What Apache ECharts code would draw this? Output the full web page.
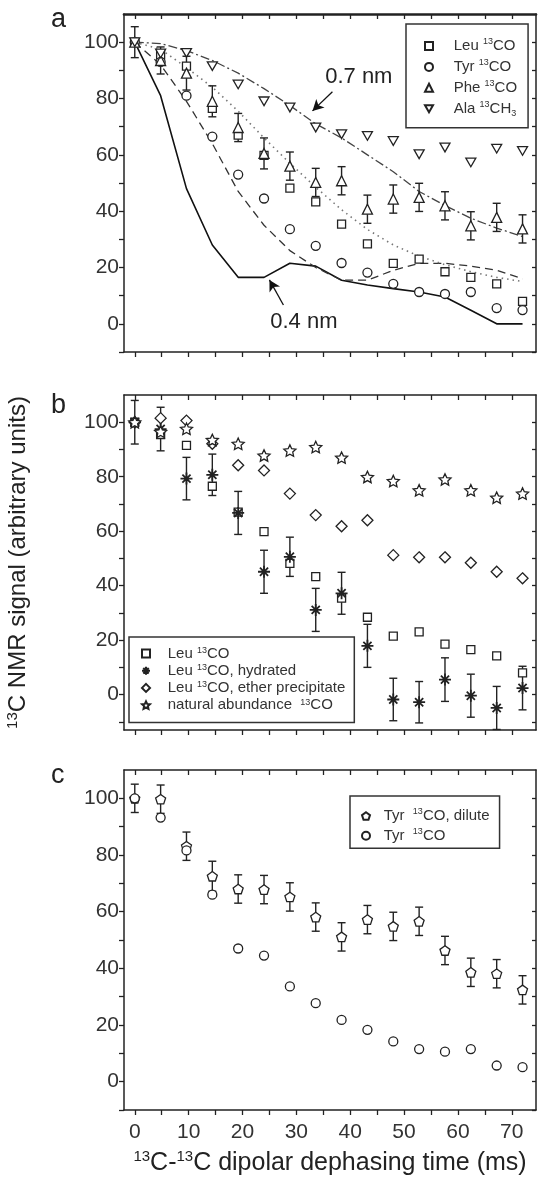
<!DOCTYPE html>
<html lang="en">
<head>
    <meta charset="UTF-8">
    <title>13C-13C dipolar dephasing</title>
    <script src="https://cdn.jsdelivr.net/npm/echarts@6/dist/echarts.min.js"></script>
    <style>
        html, body { margin: 0; padding: 0; background: #fff; }
        #chart { width: 539px; height: 1178px; }
    </style>
</head>
<body>
    <div id="chart"></div>
    <script>
        // dephasing times (ms)
        var times = [0, 4.8, 9.6, 14.4, 19.2, 24, 28.8, 33.6, 38.4, 43.2, 48, 52.8, 57.6, 62.4, 67.2, 72];

        // panel a
        var leu = [100, 95.5, 91.5, 76.5, 67, 59.8, 48.2, 43.3, 35.4, 28.4, 21.5, 23, 18.5, 16.5, 14.2, 8];
        var tyrA = [100, 93, 81, 66.5, 53, 44.5, 33.6, 27.7, 21.6, 18.2, 14.2, 11.3, 10.6, 11.3, 5.6, 4.9];
        var phe = [100, 93.5, 89, 79, 69.7, 60.5, 56, 50.2, 50.8, 40.7, 44.3, 44.9, 41.9, 34.8, 37.8, 33.7];
        var pheErr = [5.5, 4.8, 6, 5.5, 5, 5.5, 5, 5, 5, 5, 5, 5, 5, 5, 5, 5];
        var ala = [100, 96, 96.2, 91.5, 85, 79, 76.8, 69.7, 67.3, 66.7, 64.9, 60.2, 62.6, 57.3, 62.2, 61.4];
        var sim04 = [100, 81, 48, 28, 16.5, 16.5, 21.5, 20.5, 15.5, 13.8, 12.5, 11.3, 9.5, 4.8, 0, 0];
        var simDashed = [100, 92, 79, 64, 47, 35, 26, 20, 15.5, 15.5, 19, 21.5, 21.5, 20.5, 19, 16];
        var simDotted = [100, 97.5, 91, 84, 75.5, 66, 57, 48.5, 40.5, 33.5, 28, 24, 21, 18.5, 16.5, 15];
        var sim07 = [100, 99.5, 97, 93.5, 89, 83.5, 77.5, 71, 66, 60, 54, 47, 42, 37.5, 34, 31];

        // panel b
        var leuHyd = [100, 97.5, 79.3, 80.7, 66.7, 45.1, 50.6, 31.1, 37.2, 17.9, -1.8, -2.8, 5.5, -0.4, -4.9, 2.4];
        var leuHydErr = [8, 8, 7.8, 7.6, 7.9, 7.9, 7.2, 7.9, 7.7, 7.9, 7.8, 7.6, 8, 7.9, 7.9, 8];
        var leuEther = [100, 101.5, 100.6, 92.1, 84.2, 82.3, 73.8, 65.9, 61.8, 64, 51.2, 50.4, 50.4, 48.4, 45.1, 42.7];
        var natAb = [100, 96.5, 97.6, 93.5, 92.1, 87.8, 89.6, 90.9, 87, 79.9, 78.4, 75, 79, 75, 72.3, 73.8];

        // panel c
        var tyrDil = [100, 99.7, 83.1, 72.5, 68, 67.8, 65.2, 58.1, 51.1, 57.2, 54.8, 56.6, 46.3, 38.6, 38.1, 32.4];
        var tyrDilErr = [5, 5, 5, 5.3, 5, 5, 5, 5, 5, 5, 5, 5, 5, 5, 5, 5];
        var tyrC = [100, 93.2, 81.6, 66, 47, 44.5, 33.6, 27.7, 21.8, 18.3, 14.2, 11.5, 10.6, 11.5, 5.7, 5.1];

        // ticks / labels
        var xLabels = [0, 10, 20, 30, 40, 50, 60, 70];
        var xTicks = [0, 5, 10, 15, 20, 25, 30, 35, 40, 45, 50, 55, 60, 65, 70];
        var yLabels = [0, 20, 40, 60, 80, 100];
        var yTicks = [-10, 0, 10, 20, 30, 40, 50, 60, 70, 80, 90, 100];

        var INK = '#222';
        var symDown = 'path://M0,0L10,0L5,8.66Z';
        var symAst = 'path://M5,0L5,10M0,5L10,5M1.6,1.6L8.4,8.4M8.4,1.6L1.6,8.4';
        var symStar = 'path://M5,0L6.41,3.06L9.76,3.46L7.28,5.74L7.94,9.05L5,7.4L2.06,9.05L2.72,5.74L0.24,3.46L3.59,3.06Z';
        var symPent = 'path://M5,0L9.76,3.46L7.94,9.05L2.06,9.05L0.24,3.46Z';

        var legendText = {
            aLeu: '{n|Leu }{s|13}{n|CO}',
            aTyr: '{n|Tyr }{s|13}{n|CO}',
            aPhe: '{n|Phe }{s|13}{n|CO}',
            aAla: '{n|Ala }{s|13}{n|CH}{u|3}',
            bLeu: '{n|Leu }{s|13}{n|CO}',
            bHyd: '{n|Leu }{s|13}{n|CO, hydrated}',
            bEther: '{n|Leu }{s|13}{n|CO, ether precipitate}',
            bNat: '{n|natural abundance  }{s|13}{n|CO}',
            cDil: '{n|Tyr  }{s|13}{n|CO, dilute}',
            cTyr: '{n|Tyr  }{s|13}{n|CO}'
        };

        function pts(v) {
            return times.map(function (t, i) { return [t, v[i]]; });
        }
        function bars(v, e) {
            return times.map(function (t, i) { return [t, v[i] - e[i], v[i] + e[i]]; });
        }

        function xAxes(gi, showLabels, topWidth) {
            var bottom = {
                type: 'value', gridIndex: gi, position: 'bottom', min: -2, max: 74.5,
                axisLine: { show: true, onZero: false, lineStyle: { color: INK, width: 1.5 } },
                axisTick: { show: true, inside: false, length: 5, customValues: xTicks, lineStyle: { color: INK, width: 1.3 } },
                axisLabel: { show: showLabels, customValues: xLabels, fontSize: 21, color: '#333', margin: 12 },
                splitLine: { show: false }
            };
            if (showLabels) {
                bottom.name = '{s|13}{n|C-}{s|13}{n|C dipolar dephasing time (ms)}';
                bottom.nameLocation = 'middle';
                bottom.nameGap = 39;
                bottom.nameTextStyle = {
                    rich: {
                        n: { fontSize: 25, lineHeight: 28, color: '#222' },
                        s: { fontSize: 15, lineHeight: 15, verticalAlign: 'top', color: '#222' }
                    }
                };
            }
            var top = {
                type: 'value', gridIndex: gi, position: 'top', min: -2, max: 74.5,
                axisLine: { show: true, onZero: false, lineStyle: { color: INK, width: topWidth } },
                axisTick: { show: true, inside: true, length: 5, customValues: xTicks, lineStyle: { color: INK, width: 1.3 } },
                axisLabel: { show: false },
                splitLine: { show: false }
            };
            return [bottom, top];
        }

        function yAxes(gi, min) {
            var left = {
                type: 'value', gridIndex: gi, position: 'left', min: min, max: 110,
                axisLine: { show: true, onZero: false, lineStyle: { color: INK, width: 1.5 } },
                axisTick: { show: true, inside: false, length: 5, customValues: yTicks, lineStyle: { color: INK, width: 1.3 } },
                axisLabel: { show: true, customValues: yLabels, fontSize: 21, color: '#333', margin: 5 },
                splitLine: { show: false }
            };
            var right = {
                type: 'value', gridIndex: gi, position: 'right', min: min, max: 110,
                axisLine: { show: true, onZero: false, lineStyle: { color: INK, width: 1.5 } },
                axisTick: { show: true, inside: true, length: 4, customValues: yTicks, lineStyle: { color: INK, width: 1.3 } },
                axisLabel: { show: false },
                splitLine: { show: false }
            };
            return [left, right];
        }

        function errSeries(name, xi, data) {
            return {
                name: name, type: 'custom', xAxisIndex: xi, yAxisIndex: xi, z: 3,
                encode: { x: 0, y: [1, 2] },
                data: data,
                renderItem: function (params, api) {
                    var x = api.value(0);
                    var top = api.coord([x, api.value(2)]);
                    var bot = api.coord([x, api.value(1)]);
                    var w = 4;
                    var st = { stroke: INK, lineWidth: 1.4 };
                    return {
                        type: 'group', children: [
                            { type: 'line', shape: { x1: top[0], y1: top[1], x2: bot[0], y2: bot[1] }, style: st },
                            { type: 'line', shape: { x1: top[0] - w, y1: top[1], x2: top[0] + w, y2: top[1] }, style: st },
                            { type: 'line', shape: { x1: bot[0] - w, y1: bot[1], x2: bot[0] + w, y2: bot[1] }, style: st }
                        ]
                    };
                }
            };
        }

        function scat(name, xi, v, symbol, size, fill, bw) {
            return {
                name: name, type: 'scatter', xAxisIndex: xi, yAxisIndex: xi, z: 4,
                symbol: symbol, symbolSize: size, symbolKeepAspect: true,
                itemStyle: { color: fill || '#fff', borderColor: INK, borderWidth: bw || 1.3, opacity: 1 },
                data: pts(v)
            };
        }

        function simLine(name, v, type, color, width) {
            return {
                name: name, type: 'line', xAxisIndex: 0, yAxisIndex: 0, z: 2,
                showSymbol: false, symbol: 'none', smooth: false,
                lineStyle: { color: color, width: width, type: type },
                data: pts(v)
            };
        }

        function legendRich(fs, lh, gap) {
            return {
                g: { width: gap },
                n: { fontSize: fs, lineHeight: lh, color: '#333' },
                s: { fontSize: 9, lineHeight: 9, verticalAlign: 'top', color: '#333' },
                u: { fontSize: 9, lineHeight: 9, verticalAlign: 'bottom', color: '#333' }
            };
        }
        function legendFmt(name) { return '{g|}' + legendText[name]; }

        var solid = simLine('sim 0.4 nm', sim04, 'solid', '#111', 1.6);
        solid.markLine = {
            silent: true, symbol: ['none', 'arrow'], symbolSize: [9, 11],
            lineStyle: { color: '#111', width: 1.3, type: 'solid' },
            label: { show: false },
            data: [
                [{ coord: [36.7, 82.4] }, { coord: [33, 75.6] }],
                [{ coord: [27.6, 6.7] }, { coord: [25, 15.6] }]
            ]
        };
        solid.markPoint = {
            silent: true, symbol: 'circle', symbolSize: 1,
            itemStyle: { color: 'rgba(0,0,0,0)' },
            label: { show: true, position: 'inside', formatter: '{b}', fontSize: 22, color: '#222' },
            data: [
                { name: '0.7 nm', coord: [41.6, 87.6] },
                { name: '0.4 nm', coord: [31.4, 0.7] }
            ]
        };

        var chart = echarts.init(document.getElementById('chart'));
        var option = {
            animation: false,
            backgroundColor: '#fff',
            textStyle: { fontFamily: 'Liberation Sans, Arial, sans-serif' },
            title: [
                { text: 'a', left: 51, top: 6, padding: 0, textStyle: { fontSize: 27, fontWeight: 'normal', color: '#222' } },
                { text: 'b', left: 51, top: 392, padding: 0, textStyle: { fontSize: 27, fontWeight: 'normal', color: '#222' } },
                { text: 'c', left: 51, top: 762, padding: 0, textStyle: { fontSize: 27, fontWeight: 'normal', color: '#222' } }
            ],
            grid: [
                { left: 124, right: 3, top: 14, height: 338, outerBoundsMode: 'none' },
                { left: 124, right: 3, top: 395, height: 335, outerBoundsMode: 'none' },
                { left: 124, right: 3, top: 770, height: 340, outerBoundsMode: 'none' }
            ],
            xAxis: [].concat(xAxes(0, false, 2.6), xAxes(1, false, 1.5), xAxes(2, true, 1.5)),
            yAxis: (function () {
                var ys = [].concat(yAxes(0, -10), yAxes(1, -13), yAxes(2, -10));
                ys[2].name = '{s|13}{n|C NMR signal (arbitrary units)}';
                ys[2].nameLocation = 'middle';
                ys[2].nameGap = 92;
                ys[2].nameRotate = 90;
                ys[2].nameTextStyle = {
                    rich: {
                        n: { fontSize: 24, lineHeight: 27, color: '#222' },
                        s: { fontSize: 15, lineHeight: 15, verticalAlign: 'top', color: '#222' }
                    }
                };
                return ys;
            })(),
            legend: [
                {
                    data: ['aLeu', 'aTyr', 'aPhe', 'aAla'], orient: 'vertical', left: 406, top: 24,
                    selectedMode: false, itemWidth: 8, itemHeight: 8, itemGap: 4.4,
                    padding: [13, 11, 10, 18], borderColor: '#333', borderWidth: 1.5,
                    formatter: legendFmt, textStyle: { rich: legendRich(15, 18, 15.7) }
                },
                {
                    data: ['bLeu', 'bHyd', 'bEther', 'bNat'], orient: 'vertical', left: 129, top: 637,
                    selectedMode: false, itemWidth: 8, itemHeight: 8, itemGap: 2.2,
                    padding: [9, 9, 10, 12], borderColor: '#333', borderWidth: 1.5,
                    formatter: legendFmt, textStyle: { rich: legendRich(15, 15, 12.7) }
                },
                {
                    data: ['cDil', 'cTyr'], orient: 'vertical', left: 350, top: 796,
                    selectedMode: false, itemWidth: 8, itemHeight: 8, itemGap: 3.3,
                    padding: [11, 10, 5, 11], borderColor: '#333', borderWidth: 1.5,
                    formatter: legendFmt, textStyle: { rich: legendRich(15, 18, 8.7) }
                }
            ],
            series: [
                solid,
                simLine('sim dashed', simDashed, [8, 5], '#333', 1.3),
                simLine('sim dotted', simDotted, [1.5, 4], '#777', 1.6),
                simLine('sim 0.7 nm', sim07, [9, 3, 2, 3], '#444', 1.3),
                errSeries('aPheErr', 0, bars(phe, pheErr)),
                scat('aLeu', 0, leu, 'rect', 8),
                scat('aTyr', 0, tyrA, 'circle', 9),
                scat('aPhe', 0, phe, 'triangle', 10),
                scat('aAla', 0, ala, symDown, 10),

                errSeries('bHydErr', 2, bars(leuHyd, leuHydErr)),
                scat('bLeu', 2, leu, 'rect', 8),
                scat('bHyd', 2, leuHyd, symAst, 12, INK, 1.8),
                scat('bEther', 2, leuEther, 'diamond', 11),
                scat('bNat', 2, natAb, symStar, 12),

                errSeries('cDilErr', 4, bars(tyrDil, tyrDilErr)),
                scat('cDil', 4, tyrDil, symPent, 10),
                scat('cTyr', 4, tyrC, 'circle', 9)
            ]
        };
        chart.setOption(option);
    </script>
</body>
</html>
